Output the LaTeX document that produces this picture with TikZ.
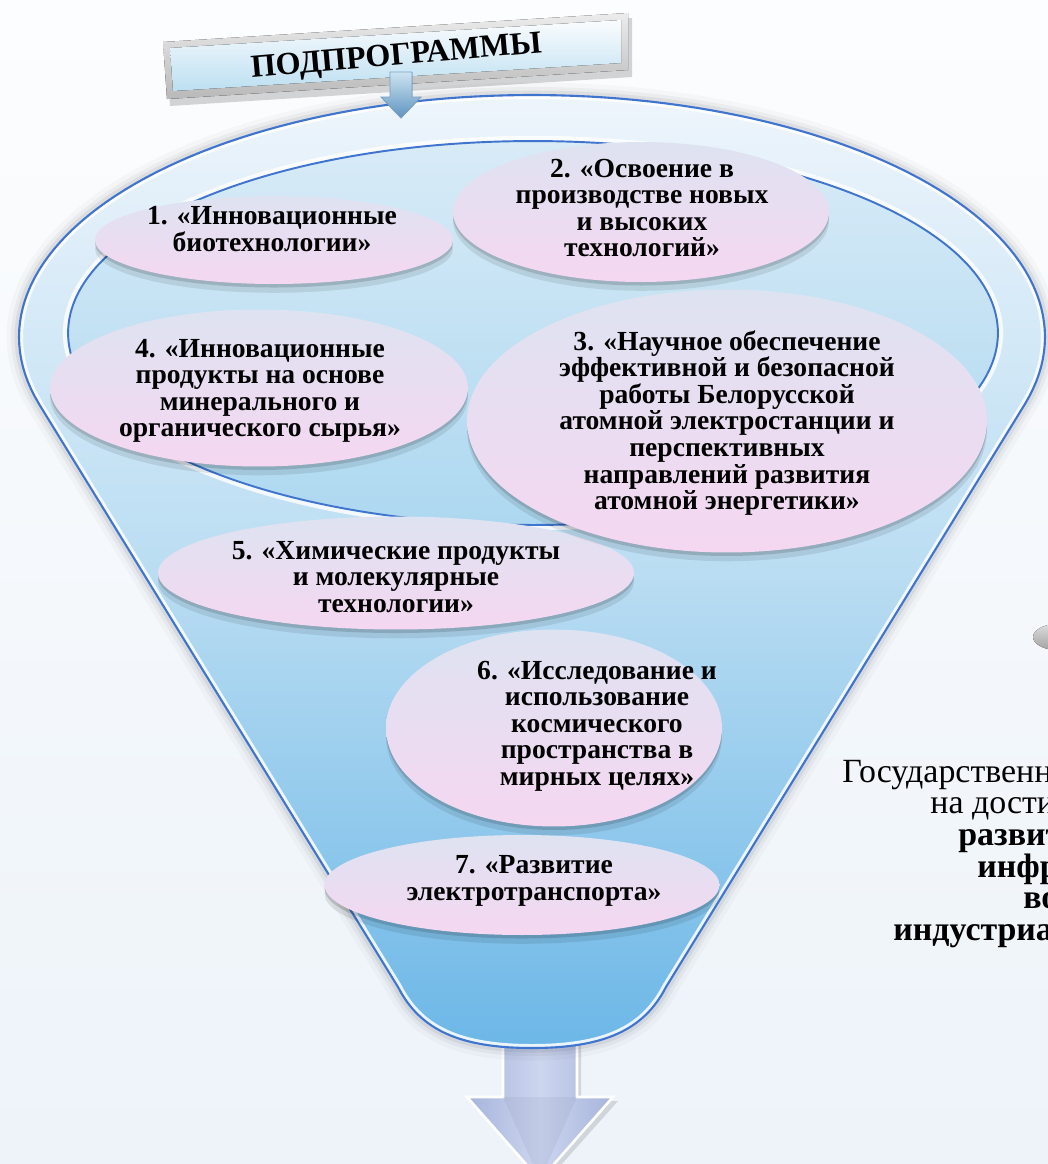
\documentclass[tikz,border=0pt]{standalone}
\usepackage{fontspec}
\setmainfont{Liberation Serif}
\usetikzlibrary{shapes.geometric,shadows}
\definecolor{ellTop}{HTML}{DEE3F1}
\definecolor{ellBot}{HTML}{F5D7F1}
\definecolor{funTop}{HTML}{EEF5FC}
\definecolor{funMid}{HTML}{BADDF2}
\definecolor{funBot}{HTML}{6CB7E7}
\definecolor{rimBlue}{HTML}{3F74CF}
\definecolor{innTop}{HTML}{D8EBF7}
\definecolor{innBot}{HTML}{ADD8F0}
\definecolor{bgTop}{HTML}{FCFDFE}
\definecolor{bgBot}{HTML}{EDF3F9}
\definecolor{arrA}{HTML}{A6B4DB}
\definecolor{arrB}{HTML}{CDD6EF}
\definecolor{faceTop}{HTML}{FAFCFE}
\definecolor{faceBot}{HTML}{BCDFF1}
\definecolor{smTop}{HTML}{CDE4F1}
\definecolor{smBot}{HTML}{5E93BF}
\definecolor{smLine}{HTML}{78A0C3}
\begin{document}
\begin{tikzpicture}[x=0.02cm,y=-0.02cm,
  prog/.style={ellipse, draw=none, inner sep=0pt, top color=ellTop, bottom color=ellBot,
    drop shadow={shadow xshift=0pt, shadow yshift=-2pt, opacity=0.14, fill=black},
    drop shadow={shadow xshift=0pt, shadow yshift=-5pt, opacity=0.09, fill=black}},
  ptext/.style={align=center, inner sep=0pt, font=\fontsize{15.7}{15.1}\selectfont\bfseries},
  rtext/.style={anchor=base west, inner sep=0pt, font=\fontsize{19.3}{20}\selectfont},
  rbold/.style={rtext, font=\fontsize{19.3}{20}\selectfont\bfseries}]
\useasboundingbox (0,0) rectangle (1048,1164);
\begin{scope}
\clip (0,0) rectangle (1048,1164);
% background
\fill[top color=bgTop, bottom color=bgBot] (0,0) rectangle (1048,1164);

\def\funnel{(39,404) -- (398,987) .. controls (420,1030) and (460,1048) .. (532,1048)
  .. controls (604,1048) and (644,1030) .. (666,987) -- (1025,404)
  -- plot[domain=16:-196,samples=120] ({532+513*cos(\x)},{337+242*sin(\x)}) -- cycle}

% bottom arrow
\fill[black, opacity=0.12] (507,1040) -- (581,1040) -- (581,1101) -- (618,1101) -- (544,1184) -- (471,1101) -- (507,1101) -- cycle;
\filldraw[left color=arrA, right color=arrA, middle color=arrB, draw=white, line width=1.5pt]
  (503,1036) -- (577,1036) -- (577,1097) -- (613,1097) -- (540,1180) -- (467,1097) -- (503,1097) -- cycle;
\fill[arrA!80!black, opacity=0.15] (503,1097) -- (577,1097) -- (540,1180) -- cycle;

% grey blob at right
\fill[top color=gray!25, bottom color=gray!75] (1063,637) ellipse [x radius=0.6cm, y radius=0.28cm];

% funnel shadow
\draw[black, opacity=0.025, line width=0.5cm, line join=round] \funnel;
\draw[black, opacity=0.04, line width=0.32cm, line join=round] \funnel;
\draw[black, opacity=0.06, line width=0.18cm, line join=round] \funnel;
% funnel body
\fill[top color=funTop, bottom color=funBot, middle color=funMid] \funnel;
\begin{scope}
  \clip \funnel;
  \draw[white, opacity=0.85, line width=0.16cm] \funnel;
\end{scope}
\draw[rimBlue, line width=1.2pt, line join=round] \funnel;

% inner ellipse
\fill[top color=innTop, bottom color=innBot] (533,333) ellipse [x radius=9.3cm, y radius=3.84cm];
\draw[white, opacity=0.8, line width=2.5pt] (533,333) ellipse [x radius=9.36cm, y radius=3.9cm];
\draw[rimBlue, line width=1.1pt] (533,333) ellipse [x radius=9.3cm, y radius=3.84cm];

% header box
\fill[black, opacity=0.16] (166,48) -- (632,18) -- (632,77) -- (170,106) -- cycle;
\fill[top color=gray!15, bottom color=gray!55] (163,42) -- (628,13) -- (628,70) -- (167,99) -- cycle;
\fill[top color=faceTop, bottom color=faceBot] (170,48) -- (621,20) -- (621,63) -- (173,91) -- cycle;
\node[anchor=base, rotate=5, inner sep=0pt, font=\fontsize{18.3}{19}\selectfont\bfseries] (hdr) at (397,65) {ПОДПРОГРАММЫ};

% small arrow under header
\filldraw[top color=smTop, bottom color=smBot, draw=smLine, line width=0.5pt]
  (390,72) -- (412,72) -- (412,97) -- (421,97) -- (401,118) -- (381,97) -- (390,97) -- cycle;

% subprogram ellipses
\node[prog, minimum width=7.16cm, minimum height=1.76cm] (e1) at (274,240) {};
\node[prog, minimum width=7.52cm, minimum height=2.8cm] (e2) at (641,212) {};
\node[prog, minimum width=8.36cm, minimum height=3.14cm] (e4) at (259,388) {};
\node[prog, minimum width=9.52cm, minimum height=2.26cm] (e5) at (396,573) {};
\node[prog, minimum width=10.4cm, minimum height=5.26cm] (e3) at (727,421) {};
\node[prog, minimum width=6.72cm, minimum height=3.94cm] (e6) at (554,728) {};
\node[prog, minimum width=7.9cm, minimum height=2.0cm] (e7) at (522,885) {};

\node[ptext] (t1) at (272,229) {1. «Инновационные\\биотехнологии»};
\node[ptext] (t2) at (642,208) {2. «Освоение в\\производстве новых\\и высоких\\технологий»};
\node[ptext] (t4) at (260,391) {4. «Инновационные\\продукты на основе\\минерального и\\органического сырья»};
\node[ptext] (t3) at (727,423) {3. «Научное обеспечение\\эффективной и безопасной\\работы Белорусской\\атомной электростанции и\\перспективных\\направлений развития\\атомной энергетики»};
\node[ptext] (t5) at (396,577) {5. «Химические продукты\\и молекулярные\\технологии»};
\node[ptext] (t6) at (597,726) {6. «Исследование и\\использование\\космического\\пространства в\\мирных целях»};
\node[ptext] (t7) at (534,881) {7. «Развитие\\электротранспорта»};

% right text (cut by the frame)
\node[rtext] (r1) at (842,782) {Государственн};
\node[rtext] (r2) at (930,813) {на дости};
\node[rbold] (r3) at (958,845) {развит};
\node[rbold] (r4) at (977,877) {инфр};
\node[rbold] (r5) at (1023,908) {во};
\node[rbold] (r6) at (893,940) {индустриа};
\end{scope}
\end{tikzpicture}
\end{document}
